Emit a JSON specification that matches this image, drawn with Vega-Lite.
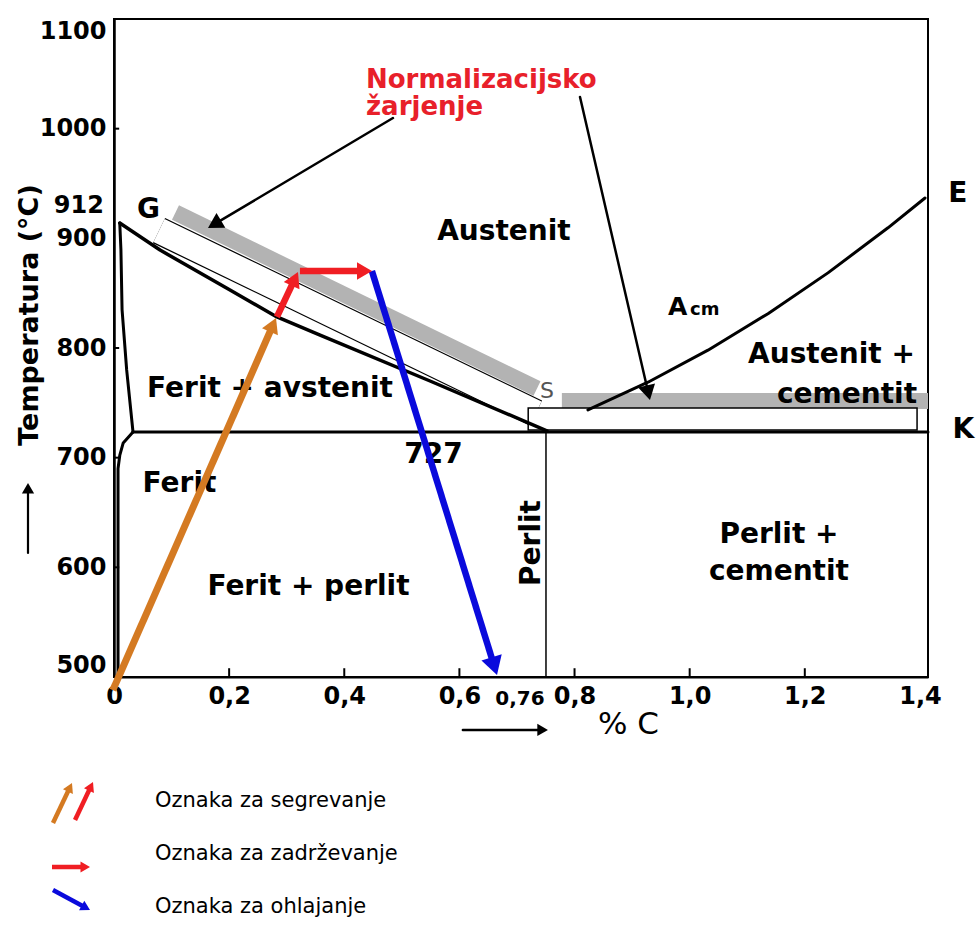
{
  "$schema": "https://vega.github.io/schema/vega-lite/v6.json",
  "width": 814,
  "height": 658,
  "autosize": {"type": "none"},
  "padding": {"left": 114, "top": 19, "right": 52, "bottom": 250},
  "background": "white",
  "config": {
    "view": {"stroke": "black", "strokeWidth": 2},
    "axis": {"grid": false, "domainColor": "black", "labelColor": "black", "titleColor": "black", "labelFont": "DejaVu Sans", "labelFontWeight": "bold", "labelFontSize": 24, "titleFont": "DejaVu Sans"}
  },
  "resolve": {"scale": {"color": "independent", "strokeWidth": "independent", "size": "independent", "angle": "independent"}},
  "datasets": {
    "bands": [
      {"id": "gray", "i": 0, "x": 0.1068, "t": 923.5},
      {"id": "gray", "i": 1, "x": 0.7348, "t": 763.1},
      {"id": "dot", "i": 0, "x": 0.0782, "t": 907.1},
      {"id": "dot", "i": 1, "x": 0.733, "t": 740.7}
    ],
    "rects": [
      {"id": "gray", "x": 0.778, "x2": 1.414, "t": 744.4, "t2": 759.0},
      {"id": "dot", "x": 0.7195, "x2": 1.395, "t": 725.2, "t2": 745.3}
    ],
    "lines": [
      {"id": "A3", "i": 0, "x": 0.010, "t": 914},
      {"id": "A3", "i": 1, "x": 0.080, "t": 889.3},
      {"id": "A3", "i": 2, "x": 0.2015, "t": 852.9},
      {"id": "A3", "i": 3, "x": 0.283, "t": 828.3},
      {"id": "A3", "i": 4, "x": 0.358, "t": 811.8},
      {"id": "A3", "i": 5, "x": 0.549, "t": 769.9},
      {"id": "A3", "i": 6, "x": 0.752, "t": 724.5},
      {"id": "GP", "i": 0, "x": 0.010, "t": 914},
      {"id": "GP", "i": 1, "x": 0.012, "t": 890},
      {"id": "GP", "i": 2, "x": 0.014, "t": 835},
      {"id": "GP", "i": 3, "x": 0.022, "t": 780},
      {"id": "GP", "i": 4, "x": 0.033, "t": 723.4},
      {"id": "PQ", "i": 0, "x": 0.033, "t": 723.4},
      {"id": "PQ", "i": 1, "x": 0.016, "t": 713.4},
      {"id": "PQ", "i": 2, "x": 0.010, "t": 702},
      {"id": "PQ", "i": 3, "x": 0.007, "t": 690},
      {"id": "PQ", "i": 4, "x": 0.007, "t": 500},
      {"id": "Eut", "i": 0, "x": 0.033, "t": 723.4},
      {"id": "Eut", "i": 1, "x": 1.414, "t": 723.4},
      {"id": "Perl", "i": 0, "x": 0.7504, "t": 723.4},
      {"id": "Perl", "i": 1, "x": 0.7504, "t": 500},
      {"id": "Acm", "i": 0, "x": 0.8233, "t": 743.5},
      {"id": "Acm", "i": 1, "x": 0.9276, "t": 768.8},
      {"id": "Acm", "i": 2, "x": 1.0318, "t": 798.0},
      {"id": "Acm", "i": 3, "x": 1.136, "t": 831.3},
      {"id": "Acm", "i": 4, "x": 1.2402, "t": 868.5},
      {"id": "Acm", "i": 5, "x": 1.3445, "t": 909.6},
      {"id": "Acm", "i": 6, "x": 1.4088, "t": 936.8},
      {"id": "n1", "i": 0, "x": 0.4846, "t": 1009.7},
      {"id": "n1", "i": 1, "x": 0.1745, "t": 912.9},
      {"id": "n2", "i": 0, "x": 0.8095, "t": 1028.9},
      {"id": "n2", "i": 1, "x": 0.9281, "t": 759.2},
      {"id": "ax_up", "i": 0, "x": -0.1494, "t": 613.1},
      {"id": "ax_up", "i": 1, "x": -0.1494, "t": 672.1},
      {"id": "ax_right", "i": 0, "x": 0.606, "t": 451.7},
      {"id": "ax_right", "i": 1, "x": 0.7446, "t": 451.7}
    ],
    "arrows": [
      {"id": "heat", "i": 0, "x": -0.002, "t": 488},
      {"id": "heat", "i": 1, "x": 0.2762, "t": 821.05},
      {"id": "hold1", "i": 0, "x": 0.283, "t": 828.3},
      {"id": "hold1", "i": 1, "x": 0.3141, "t": 863.1},
      {"id": "hold2", "i": 0, "x": 0.323, "t": 870.2},
      {"id": "hold2", "i": 1, "x": 0.4351, "t": 870.2},
      {"id": "cool", "i": 0, "x": 0.448, "t": 870.2},
      {"id": "cool", "i": 1, "x": 0.6606, "t": 509.8},
      {"id": "lg_o", "i": 0, "x": -0.106, "t": 366.9},
      {"id": "lg_o", "i": 1, "x": -0.0765, "t": 399.4},
      {"id": "lg_r", "i": 0, "x": -0.0677, "t": 369.6},
      {"id": "lg_r", "i": 1, "x": -0.04, "t": 400.3},
      {"id": "lg_h", "i": 0, "x": -0.1077, "t": 326.75},
      {"id": "lg_h", "i": 1, "x": -0.0499, "t": 326.75},
      {"id": "lg_b", "i": 0, "x": -0.106, "t": 305.8},
      {"id": "lg_b", "i": 1, "x": -0.0489, "t": 289.6}
    ],
    "heads": [
      {"id": "heat", "x": 0.2762, "t": 821.05},
      {"id": "hold1", "x": 0.3141, "t": 863.1},
      {"id": "hold2", "x": 0.4351, "t": 870.2},
      {"id": "cool", "x": 0.6606, "t": 509.8},
      {"id": "n1", "x": 0.1745, "t": 912.9},
      {"id": "n2", "x": 0.9281, "t": 759.2},
      {"id": "lg_o", "x": -0.0765, "t": 399.4},
      {"id": "lg_r", "x": -0.04, "t": 400.3},
      {"id": "lg_h", "x": -0.0499, "t": 326.75},
      {"id": "lg_b", "x": -0.0489, "t": 289.6},
      {"id": "ax_up", "x": -0.1494, "t": 672.1},
      {"id": "ax_right", "x": 0.7446, "t": 451.7}
    ],
    "ticks": [
      {"x": 0.2, "x2": 0.2, "t": 500, "t2": 508},
      {"x": 0.4, "x2": 0.4, "t": 500, "t2": 508},
      {"x": 0.6, "x2": 0.6, "t": 500, "t2": 508},
      {"x": 0.8, "x2": 0.8, "t": 500, "t2": 508},
      {"x": 1.0, "x2": 1.0, "t": 500, "t2": 508},
      {"x": 1.2, "x2": 1.2, "t": 500, "t2": 508},
      {"x": 0, "x2": 0.009, "t": 600, "t2": 600},
      {"x": 0, "x2": 0.009, "t": 700, "t2": 700},
      {"x": 0, "x2": 0.009, "t": 800, "t2": 800},
      {"x": 0, "x2": 0.009, "t": 1000, "t2": 1000}
    ],
    "texts": [
      {"grp": "big", "label": "Austenit", "x": 0.6774, "t": 898.5},
      {"grp": "big", "label": "Ferit + avstenit", "x": 0.271, "t": 755.3},
      {"grp": "big", "label": "Ferit", "x": 0.1138, "t": 668.7},
      {"grp": "big", "label": "Ferit + perlit", "x": 0.3378, "t": 574.8},
      {"grp": "big", "label": "Perlit +", "x": 1.1551, "t": 622.2},
      {"grp": "big", "label": "cementit", "x": 1.1551, "t": 588.4},
      {"grp": "big", "label": "Austenit +", "x": 1.2463, "t": 786.3},
      {"grp": "big", "label": "cementit", "x": 1.2733, "t": 749.8},
      {"grp": "big", "label": "E", "x": 1.466, "t": 933.1},
      {"grp": "big", "label": "K", "x": 1.4756, "t": 717.9},
      {"grp": "big", "label": "727", "x": 0.555, "t": 695.1},
      {"grp": "big", "label": "G", "x": 0.0599, "t": 918.5},
      {"grp": "red", "label": "Normalizacijsko", "x": 0.4377, "t": 1037.1},
      {"grp": "red", "label": "žarjenje", "x": 0.4377, "t": 1012.4},
      {"grp": "vert", "label": "Perlit", "x": 0.740, "t": 622.2},
      {"grp": "A", "label": "A", "x": 0.9623, "t": 830.1},
      {"grp": "cm", "label": "cm", "x": 1.0005, "t": 830.1},
      {"grp": "legend", "label": "Oznaka za segrevanje", "x": 0.0712, "t": 381.5},
      {"grp": "legend", "label": "Oznaka za zadrževanje", "x": 0.0712, "t": 333.1},
      {"grp": "legend", "label": "Oznaka za ohlajanje", "x": 0.0712, "t": 284.8},
      {"grp": "c076", "label": "0,76", "x": 0.7052, "t": 474.5},
      {"grp": "t912", "label": "912", "x": -0.0174, "t": 923.1},
      {"grp": "S", "label": "S", "x": 0.7521, "t": 754.4}
    ]
  },
  "encoding": {
    "x": {
      "field": "x", "type": "quantitative",
      "scale": {"domain": [0, 1.414], "nice": false, "zero": false},
      "axis": {"values": [0, 0.2, 0.4, 0.6, 0.8, 1, 1.2, 1.4], "labelExpr": "datum.value == 0 ? '0' : replace(format(datum.value, '.1f'), '.', ',')", "ticks": false, "labelPadding": 7, "labelFlush": false, "domainWidth": 2, "title": "% C", "titleFontSize": 31, "titleFontWeight": "normal", "titleX": 514, "titleY": 56, "titleBaseline": "alphabetic", "titleAlign": "center"}
    },
    "y": {
      "field": "t", "type": "quantitative",
      "scale": {"domain": [500, 1100], "nice": false, "zero": false},
      "axis": {"values": [500, 600, 700, 800, 900, 1000, 1100], "format": "d", "ticks": false, "labelPadding": 8, "labelFlush": true, "domainWidth": 2.5, "title": "Temperatura (°C)", "titleFontSize": 27, "titleFontWeight": "bold", "titleX": -77, "titleY": 295.5, "titleAngle": 270, "titleAlign": "center", "titleBaseline": "alphabetic"}
    }
  },
  "layer": [
    {"data": {"name": "bands"}, "transform": [{"filter": "datum.id == 'gray'"}], "mark": {"type": "line", "color": "#b3b3b3", "strokeWidth": 16, "strokeCap": "butt", "clip": false}, "encoding": {"order": {"field": "i", "type": "quantitative"}}},
    {"data": {"name": "bands"}, "transform": [{"filter": "datum.id == 'dot'"}], "mark": {"type": "line", "color": "black", "strokeWidth": 28, "strokeCap": "butt", "clip": false}, "encoding": {"order": {"field": "i", "type": "quantitative"}}},
    {"data": {"name": "bands"}, "transform": [{"filter": "datum.id == 'dot'"}], "mark": {"type": "line", "color": "white", "strokeWidth": 25.5, "strokeCap": "butt", "clip": false}, "encoding": {"order": {"field": "i", "type": "quantitative"}}},
    {"data": {"name": "rects"}, "transform": [{"filter": "datum.id == 'gray'"}], "mark": {"type": "rect", "fill": "#b3b3b3", "clip": false}, "encoding": {"x2": {"field": "x2"}, "y2": {"field": "t2"}}},
    {"data": {"name": "rects"}, "transform": [{"filter": "datum.id == 'dot'"}], "mark": {"type": "rect", "fill": "white", "stroke": "black", "strokeWidth": 1.5, "clip": false}, "encoding": {"x2": {"field": "x2"}, "y2": {"field": "t2"}}},
    {"data": {"name": "lines"}, "mark": {"type": "line", "color": "black", "strokeCap": "round", "strokeJoin": "round", "clip": false},
     "encoding": {"order": {"field": "i", "type": "quantitative"}, "detail": {"field": "id"},
       "strokeWidth": {"field": "id", "type": "nominal", "scale": {"type": "ordinal", "domain": ["A3", "GP", "PQ", "Eut", "Perl", "Acm", "n1", "n2", "ax_up", "ax_right"], "range": [3.5, 3, 3, 3, 1.5, 3, 2.5, 2.5, 2.2, 2.5]}, "legend": null}}},
    {"data": {"name": "ticks"}, "mark": {"type": "rule", "color": "black", "strokeWidth": 2, "clip": false}, "encoding": {"x2": {"field": "x2"}, "y2": {"field": "t2"}}},
    {"data": {"name": "texts"}, "transform": [{"filter": "datum.grp == 'big'"}], "mark": {"type": "text", "font": "DejaVu Sans", "fontWeight": "bold", "fontSize": 28, "align": "center", "baseline": "alphabetic", "color": "black"}, "encoding": {"text": {"field": "label"}}},
    {"data": {"name": "texts"}, "transform": [{"filter": "datum.grp == 'red'"}], "mark": {"type": "text", "font": "DejaVu Sans", "fontWeight": "bold", "fontSize": 26, "align": "left", "baseline": "alphabetic", "color": "#e8202a"}, "encoding": {"text": {"field": "label"}}},
    {"data": {"name": "texts"}, "transform": [{"filter": "datum.grp == 'vert'"}], "mark": {"type": "text", "font": "DejaVu Sans", "fontWeight": "bold", "fontSize": 28, "align": "center", "baseline": "alphabetic", "angle": 270, "color": "black"}, "encoding": {"text": {"field": "label"}}},
    {"data": {"name": "texts"}, "transform": [{"filter": "datum.grp == 'A'"}], "mark": {"type": "text", "font": "DejaVu Sans", "fontWeight": "bold", "fontSize": 25, "align": "left", "baseline": "alphabetic", "color": "black"}, "encoding": {"text": {"field": "label"}}},
    {"data": {"name": "texts"}, "transform": [{"filter": "datum.grp == 'cm'"}], "mark": {"type": "text", "font": "DejaVu Sans", "fontWeight": "bold", "fontSize": 18, "align": "left", "baseline": "alphabetic", "color": "black"}, "encoding": {"text": {"field": "label"}}},
    {"data": {"name": "texts"}, "transform": [{"filter": "datum.grp == 'legend'"}], "mark": {"type": "text", "font": "DejaVu Sans", "fontWeight": "normal", "fontSize": 21, "align": "left", "baseline": "alphabetic", "color": "black"}, "encoding": {"text": {"field": "label"}}},
    {"data": {"name": "texts"}, "transform": [{"filter": "datum.grp == 'c076'"}], "mark": {"type": "text", "font": "DejaVu Sans", "fontWeight": "bold", "fontSize": 20, "align": "center", "baseline": "alphabetic", "color": "black"}, "encoding": {"text": {"field": "label"}}},
    {"data": {"name": "texts"}, "transform": [{"filter": "datum.grp == 't912'"}], "mark": {"type": "text", "font": "DejaVu Sans", "fontWeight": "bold", "fontSize": 24, "align": "right", "baseline": "alphabetic", "color": "black"}, "encoding": {"text": {"field": "label"}}},
    {"data": {"name": "texts"}, "transform": [{"filter": "datum.grp == 'S'"}], "mark": {"type": "text", "font": "DejaVu Sans", "fontWeight": "normal", "fontSize": 22, "align": "center", "baseline": "alphabetic", "color": "#555555"}, "encoding": {"text": {"field": "label"}}},
    {"data": {"name": "arrows"}, "mark": {"type": "line", "strokeCap": "butt", "clip": false},
     "encoding": {"order": {"field": "i", "type": "quantitative"}, "detail": {"field": "id"},
       "color": {"field": "id", "type": "nominal", "scale": {"type": "ordinal", "domain": ["heat", "hold1", "hold2", "cool", "lg_o", "lg_r", "lg_h", "lg_b"], "range": ["#d47a22", "#f01e23", "#f01e23", "#0a0adc", "#d47a22", "#f01e23", "#f01e23", "#0a0adc"]}, "legend": null},
       "strokeWidth": {"field": "id", "type": "nominal", "scale": {"type": "ordinal", "domain": ["heat", "hold1", "hold2", "cool", "lg_o", "lg_r", "lg_h", "lg_b"], "range": [7, 6.5, 6.5, 6.5, 4.5, 4.5, 4.5, 4.5]}, "legend": null}}},
    {"data": {"name": "heads"}, "mark": {"type": "point", "shape": "triangle-up", "filled": true, "opacity": 1, "clip": false},
     "encoding": {
       "color": {"field": "id", "type": "nominal", "scale": {"type": "ordinal", "domain": ["heat", "hold1", "hold2", "cool", "n1", "n2", "lg_o", "lg_r", "lg_h", "lg_b", "ax_up", "ax_right"], "range": ["#d47a22", "#f01e23", "#f01e23", "#0a0adc", "black", "black", "#d47a22", "#f01e23", "#f01e23", "#0a0adc", "black", "black"]}, "legend": null},
       "size": {"field": "id", "type": "nominal", "scale": {"type": "ordinal", "domain": ["heat", "hold1", "hold2", "cool", "n1", "n2", "lg_o", "lg_r", "lg_h", "lg_b", "ax_up", "ax_right"], "range": [300, 300, 300, 450, 300, 300, 120, 120, 120, 120, 150, 150]}, "legend": null},
       "angle": {"field": "id", "type": "nominal", "scale": {"type": "ordinal", "domain": ["heat", "hold1", "hold2", "cool", "n1", "n2", "lg_o", "lg_r", "lg_h", "lg_b", "ax_up", "ax_right"], "range": [23.7, 25, 90, 162.8, 239.3, 167, 25.4, 25.3, 90, 118.4, 0, 90]}, "legend": null}
     }}
  ]
}
